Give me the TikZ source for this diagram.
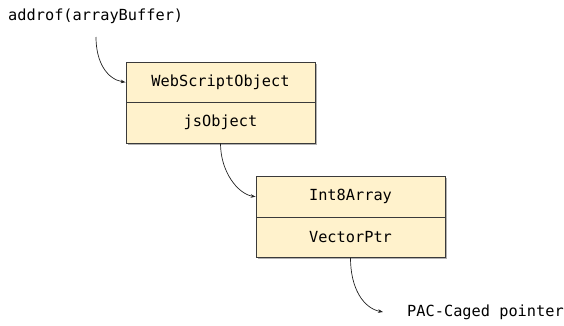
\documentclass[tikz,border=0pt]{standalone}
\usepackage{fontspec}
\setmonofont{DejaVu Sans Mono}
\usetikzlibrary{arrows.meta,shadows}
\definecolor{cellfill}{HTML}{FFF2CC}
\definecolor{cellline}{HTML}{3A3A3A}
\definecolor{linkline}{HTML}{222222}
\tikzset{
  cell/.style={draw=cellline, line width=0.9pt, fill=cellfill,
    minimum width=189pt, minimum height=40.5pt, inner sep=0pt,
    font=\ttfamily\fontsize{15.3}{18}\selectfont,
    drop shadow={shadow xshift=1.8pt, shadow yshift=-1.8pt, opacity=0.3, fill=black}},
  label text/.style={font=\ttfamily\fontsize{15.3}{18}\selectfont, inner sep=0pt, anchor=west},
  link/.style={draw=linkline, line width=0.7pt, -{Stealth[length=5pt,width=3.6pt]}}
}
\begin{document}
\begin{tikzpicture}[x=1pt, y=-1pt]
  \useasboundingbox (0,0) rectangle (564,325);

  % first object
  \node[cell] (wso) at (220.5,82.25) {WebScriptObject};
  \node[cell] (jso) at (220.5,122.75) {jsObject};

  % second object
  \node[cell] (i8a) at (350.5,196.75) {Int8Array};
  \node[cell] (vptr) at (350.5,237.25) {VectorPtr};

  % labels
  \node[label text] (addr) at (8,16) {addrof(arrayBuffer)};
  \coordinate (addrout) at (96,37);
  \coordinate (pacin) at (383,312);
  \node[label text] (pac) at (407,312) {PAC-Caged pointer};

  % pointer links
  \draw[link] (addrout) .. controls +(0,26) and +(-18,-3) .. (wso.west);
  \draw[link] (jso.south) .. controls +(0,28) and +(-18,-3) .. (i8a.west);
  \draw[link] (vptr.south) .. controls +(0,30) and +(-20,-4) .. (pacin);
\end{tikzpicture}
\end{document}
